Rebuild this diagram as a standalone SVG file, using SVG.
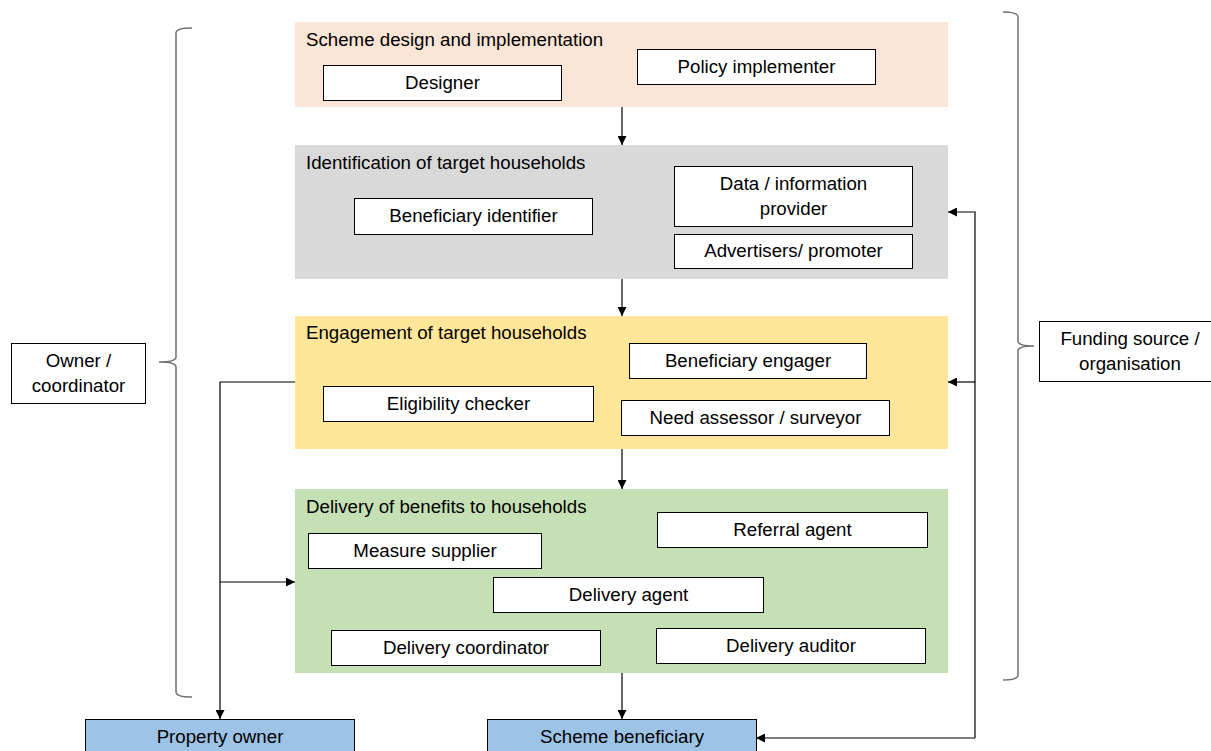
<svg xmlns="http://www.w3.org/2000/svg" width="1211" height="751" viewBox="0 0 1211 751">
<defs>
<style>
text{font-family:"Liberation Sans",Arial,sans-serif;font-size:18.7px;fill:#000}
.c{text-anchor:middle}
.box{fill:#fff;stroke:#000;stroke-width:1}
.blue{fill:#9DC3E6;stroke:#000;stroke-width:1}
.ln{fill:none;stroke:#000;stroke-width:1.2}
.br{fill:none;stroke:#6f6f6f;stroke-width:1.5}
</style>
<marker id="ah" viewBox="0 0 10 10" refX="10" refY="5" markerWidth="9" markerHeight="9" markerUnits="userSpaceOnUse" orient="auto">
<path d="M0,0 L10,5 L0,10 z" fill="#000"/>
</marker>
</defs>
<rect width="1211" height="751" fill="#fff"/>

<g id="stage-design">
<rect x="295" y="22" width="653" height="85" fill="#FBE5D6"/>
<text x="306" y="46">Scheme design and implementation</text>
</g>
<g id="designer"><rect class="box" x="323.5" y="65.5" width="238" height="35"/><text class="c" x="442.5" y="89">Designer</text></g>
<g id="policy-implementer"><rect class="box" x="637.5" y="49.5" width="238" height="35"/><text class="c" x="756.5" y="73">Policy implementer</text></g>

<g id="stage-identification">
<rect x="295" y="145" width="653" height="134" fill="#D9D9D9"/>
<text x="306" y="169">Identification of target households</text>
</g>
<g id="beneficiary-identifier"><rect class="box" x="354.5" y="198.5" width="238" height="36"/><text class="c" x="473.5" y="222">Beneficiary identifier</text></g>
<g id="data-provider"><rect class="box" x="674.5" y="166.5" width="238" height="60"/><text class="c" x="793.5" y="190">Data / information</text><text class="c" x="793.5" y="215">provider</text></g>
<g id="advertisers"><rect class="box" x="674.5" y="234.5" width="238" height="34"/><text class="c" x="793.5" y="257">Advertisers/ promoter</text></g>

<g id="stage-engagement">
<rect x="295" y="316" width="653" height="133" fill="#FFE699"/>
<text x="306" y="339">Engagement of target households</text>
</g>
<g id="beneficiary-engager"><rect class="box" x="629.5" y="343.5" width="237" height="35"/><text class="c" x="748" y="367">Beneficiary engager</text></g>
<g id="eligibility-checker"><rect class="box" x="323.5" y="386.5" width="270" height="35"/><text class="c" x="458.5" y="410">Eligibility checker</text></g>
<g id="need-assessor"><rect class="box" x="621.5" y="400.5" width="268" height="35"/><text class="c" x="755.5" y="424">Need assessor / surveyor</text></g>

<g id="stage-delivery">
<rect x="295" y="489" width="653" height="184" fill="#C5E0B4"/>
<text x="306" y="513">Delivery of benefits to households</text>
</g>
<g id="referral-agent"><rect class="box" x="657.5" y="512.5" width="270" height="35"/><text class="c" x="792.5" y="536">Referral agent</text></g>
<g id="measure-supplier"><rect class="box" x="308.5" y="533.5" width="233" height="35"/><text class="c" x="425" y="557">Measure supplier</text></g>
<g id="delivery-agent"><rect class="box" x="493.5" y="577.5" width="270" height="35"/><text class="c" x="628.5" y="601">Delivery agent</text></g>
<g id="delivery-coordinator"><rect class="box" x="331.5" y="630.5" width="269" height="35"/><text class="c" x="466" y="654">Delivery coordinator</text></g>
<g id="delivery-auditor"><rect class="box" x="656.5" y="628.5" width="269" height="35"/><text class="c" x="791" y="652">Delivery auditor</text></g>

<g id="property-owner"><rect class="blue" x="85.5" y="719.5" width="269" height="40"/><text class="c" x="220" y="743">Property owner</text></g>
<g id="scheme-beneficiary"><rect class="blue" x="487.5" y="719.5" width="269" height="40"/><text class="c" x="622" y="743">Scheme beneficiary</text></g>

<g id="owner-coordinator"><rect class="box" x="11.5" y="343.5" width="134" height="60"/><text class="c" x="78.5" y="367">Owner /</text><text class="c" x="78.5" y="392">coordinator</text></g>
<g id="funding-source"><rect class="box" x="1039.5" y="321.5" width="180" height="60"/><text class="c" x="1130" y="345">Funding source /</text><text class="c" x="1130" y="370">organisation</text></g>

<g id="braces">
<path class="br" d="M192,28 Q176,28 176,33 L176,357 Q176,362 159,362 Q176,362 176,367 L176,692 Q176,697 192,697"/>
<path class="br" d="M1003,12 Q1018,12 1018,17 L1018,341 Q1018,346 1034,346 Q1018,346 1018,351 L1018,675 Q1018,680 1003,680"/>
</g>

<g id="connectors">
<line class="ln" x1="622" y1="107" x2="622" y2="145" marker-end="url(#ah)"/>
<line class="ln" x1="622" y1="279" x2="622" y2="316" marker-end="url(#ah)"/>
<line class="ln" x1="622" y1="449" x2="622" y2="489" marker-end="url(#ah)"/>
<line class="ln" x1="622" y1="673" x2="622" y2="719" marker-end="url(#ah)"/>
<polyline class="ln" points="295,382 220,382 220,719" marker-end="url(#ah)"/>
<line class="ln" x1="220" y1="582" x2="295" y2="582" marker-end="url(#ah)"/>
<line class="ln" x1="975" y1="738" x2="756" y2="738" marker-end="url(#ah)"/>
<polyline class="ln" points="975,738 975,212 948,212" marker-end="url(#ah)"/>
<line class="ln" x1="975" y1="382" x2="948" y2="382" marker-end="url(#ah)"/>
</g>
</svg>
